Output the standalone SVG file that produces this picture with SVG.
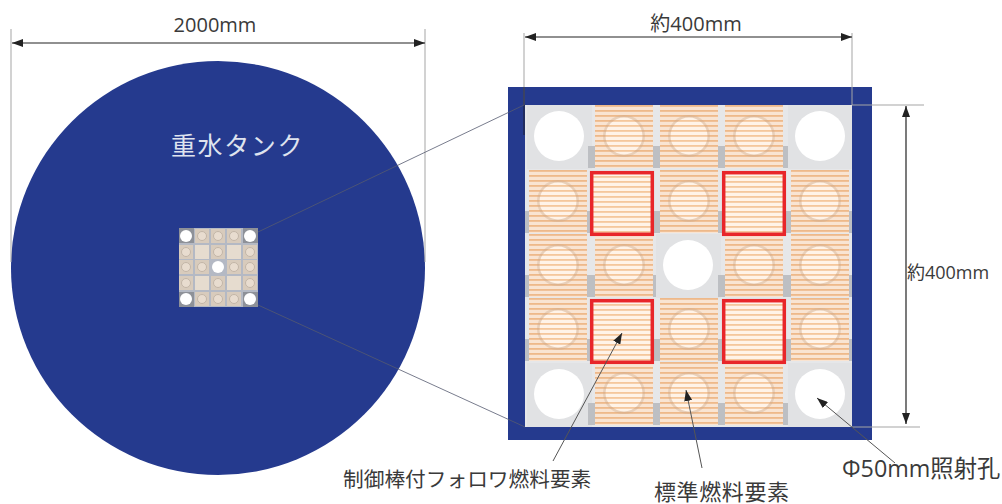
<svg xmlns="http://www.w3.org/2000/svg" xmlns:xlink="http://www.w3.org/1999/xlink" width="1002" height="504" viewBox="0 0 1002 504">
<style>
text{font-family:"Open Sans","Noto Sans CJK JP","Noto Sans",sans-serif;fill:#3a3a3a}
.cjk{font-family:"Noto Sans CJK JP",sans-serif}
.lat{font-family:"Open Sans",sans-serif}
.dim{stroke:#222;stroke-width:1.2;fill:none;marker-start:url(#as);marker-end:url(#ae)}
.ext{stroke:#a5a5a5;stroke-width:1;fill:none}
.lead{stroke:#555;stroke-width:1;fill:none;marker-end:url(#ae)}
.thin{stroke:#555a70;stroke-width:.8;fill:none}
.sf{fill:#d8cbbc}
.sc{fill:#e8dccf;stroke:#c3b6a8;stroke-width:1}
.sh{fill:#8e9198}
.sw{fill:#fff}
.sp{fill:#e6dccf}
</style>
<defs>
<marker id="ae" markerWidth="12" markerHeight="8" refX="11" refY="4" orient="auto" markerUnits="userSpaceOnUse"><path d="M0 0L11 4L0 8Z" fill="#222"/></marker>
<marker id="as" markerWidth="12" markerHeight="8" refX="1" refY="4" orient="auto" markerUnits="userSpaceOnUse"><path d="M12 0L1 4L12 8Z" fill="#222"/></marker>
<pattern id="st" width="6" height="5" patternUnits="userSpaceOnUse"><rect width="6" height="5" fill="#f9e4d2"/><rect y="0" width="6" height="1.8" fill="#eeb98a"/></pattern>
<pattern id="st2" width="6" height="5" patternUnits="userSpaceOnUse"><rect width="6" height="5" fill="#fff3e8"/><rect y="0" width="6" height="1.8" fill="#f5c79c"/></pattern>
<clipPath id="cc"><rect width="327" height="322"/></clipPath>
<filter id="b"><feGaussianBlur stdDeviation=".5"/></filter>
<filter id="b2" x="0" y="0" width="1" height="1"><feGaussianBlur stdDeviation=".6"/></filter>
<g id="fuel"><rect x="2" y="0" width="58" height="63" fill="url(#st)"/><rect x="-5" y="41" width="7" height="22" fill="#bdbfc3"/><rect x="60" y="41" width="6" height="22" fill="#bdbfc3"/><circle cx="31" cy="31" r="21" fill="#c9a98c" opacity=".35"/><circle cx="31" cy="31" r="18.5" fill="url(#st2)"/></g>
<g id="hole"><rect x="0" y="0" width="65" height="64" fill="#e1e2e4"/><circle cx="32" cy="31" r="25" fill="#fff"/></g>
<g id="ctrl"><rect x="1.7" y="1.7" width="60.6" height="61.6" fill="url(#st2)" stroke="#e8262c" stroke-width="3.5"/></g>
</defs>
<rect width="1002" height="504" fill="#fff"/>
<g id="tank"><circle cx="218" cy="268" r="207" fill="#253a8e"/>
<text class="cjk" x="171" y="155" font-size="25" letter-spacing="1.6" style="fill:#dfe3ee">重水タンク</text></g>
<g id="small-core" filter="url(#b2)">
<rect x="179" y="228" width="79" height="79" fill="#b4b9c4"/>
<rect x="179" y="228" width="15" height="15" class="sh"/><rect x="243" y="228" width="15" height="15" class="sh"/><rect x="179" y="292" width="15" height="15" class="sh"/><rect x="243" y="292" width="15" height="15" class="sh"/>
<circle cx="186" cy="236" r="6" class="sw"/><circle cx="250" cy="236" r="6" class="sw"/><circle cx="186" cy="299" r="6" class="sw"/><circle cx="250" cy="299" r="6" class="sw"/><circle cx="218" cy="267" r="6" class="sw"/>
<g id="small-fuel">
<rect x="195" y="229" width="14" height="14" class="sf"/><circle cx="202" cy="236" r="4.5" class="sc"/>
<rect x="211" y="229" width="14" height="14" class="sf"/><circle cx="218" cy="236" r="4.5" class="sc"/>
<rect x="227" y="229" width="14" height="14" class="sf"/><circle cx="234" cy="236" r="4.5" class="sc"/>
<rect x="179" y="245" width="14" height="14" class="sf"/><circle cx="186" cy="252" r="4.5" class="sc"/>
<rect x="195" y="245" width="14" height="14" class="sp"/>
<rect x="211" y="245" width="14" height="14" class="sf"/><circle cx="218" cy="252" r="4.5" class="sc"/>
<rect x="227" y="245" width="14" height="14" class="sp"/>
<rect x="243" y="245" width="14" height="14" class="sf"/><circle cx="250" cy="252" r="4.5" class="sc"/>
<rect x="179" y="260" width="14" height="14" class="sf"/><circle cx="186" cy="267" r="4.5" class="sc"/>
<rect x="195" y="260" width="14" height="14" class="sf"/><circle cx="202" cy="267" r="4.5" class="sc"/>
<rect x="227" y="260" width="14" height="14" class="sf"/><circle cx="234" cy="267" r="4.5" class="sc"/>
<rect x="243" y="260" width="14" height="14" class="sf"/><circle cx="250" cy="267" r="4.5" class="sc"/>
<rect x="179" y="276" width="14" height="14" class="sf"/><circle cx="186" cy="283" r="4.5" class="sc"/>
<rect x="195" y="276" width="14" height="14" class="sp"/>
<rect x="211" y="276" width="14" height="14" class="sf"/><circle cx="218" cy="283" r="4.5" class="sc"/>
<rect x="227" y="276" width="14" height="14" class="sp"/>
<rect x="243" y="276" width="14" height="14" class="sf"/><circle cx="250" cy="283" r="4.5" class="sc"/>
<rect x="195" y="292" width="14" height="14" class="sf"/><circle cx="202" cy="299" r="4.5" class="sc"/>
<rect x="211" y="292" width="14" height="14" class="sf"/><circle cx="218" cy="299" r="4.5" class="sc"/>
<rect x="227" y="292" width="14" height="14" class="sf"/><circle cx="234" cy="299" r="4.5" class="sc"/>
</g>
</g>
<g id="frame"><path fill-rule="evenodd" d="M508 87H872V440H508ZM525 105V427H852V105Z" fill="#253a8e"/></g>
<g id="core-large" transform="translate(525 105)" filter="url(#b)"><g clip-path="url(#cc)">
<rect x="0" y="0" width="327" height="322" fill="#e6e7e9"/>
<use xlink:href="#hole" x="2" y="0"/><use xlink:href="#fuel" x="68" y="0"/><use xlink:href="#fuel" x="133" y="0"/><use xlink:href="#fuel" x="198" y="0"/><use xlink:href="#hole" x="263" y="0"/>
<use xlink:href="#fuel" x="2" y="65"/><use xlink:href="#fuel" x="133" y="65"/><use xlink:href="#fuel" x="264" y="65"/>
<use xlink:href="#fuel" x="2" y="129"/><use xlink:href="#fuel" x="68" y="129"/><use xlink:href="#hole" x="131" y="129"/><use xlink:href="#fuel" x="198" y="129"/><use xlink:href="#fuel" x="264" y="129"/>
<use xlink:href="#fuel" x="2" y="193"/><use xlink:href="#fuel" x="133" y="193"/><use xlink:href="#fuel" x="264" y="193"/>
<use xlink:href="#hole" x="2" y="258"/><use xlink:href="#fuel" x="68" y="257"/><use xlink:href="#fuel" x="133" y="257"/><use xlink:href="#fuel" x="198" y="257"/><use xlink:href="#hole" x="263" y="258"/>
<use xlink:href="#ctrl" x="65" y="66"/><use xlink:href="#ctrl" x="197" y="66"/><use xlink:href="#ctrl" x="65" y="194"/><use xlink:href="#ctrl" x="197" y="194"/>
</g></g>
<g id="connectors">
<path class="ext" d="M11 29V262M425 29V262M524 33V105M852 33V105M852 105H924M852 427H920"/>
<path d="M524 87V135" stroke="#1f2440" stroke-width="1.2" fill="none"/>
<path class="dim" d="M12 43H425"/>
<path class="dim" d="M525 37H852"/>
<path class="dim" d="M906 106V424"/>
<path class="thin" d="M258 232L524 105M258 305L525 427"/>
<path class="lead" d="M553 461L622 333" />
<path class="lead" d="M702 468L686 390"/>
<path class="lead" d="M895 463L817 398"/>
</g>
<g id="labels">
<text x="215" y="32" font-size="20" text-anchor="middle">2000mm</text>
<text class="cjk" x="696" y="31" font-size="20" text-anchor="middle">約<tspan class="lat">400mm</tspan></text>
<text class="cjk" x="948" y="279" font-size="18" text-anchor="middle">約<tspan class="lat">400mm</tspan></text>
<text class="cjk" x="343" y="487" font-size="20.7">制御棒付フォロワ燃料要素</text>
<text class="cjk" x="654" y="500" font-size="22" letter-spacing=".6">標準燃料要素</text>
<text class="cjk" x="842" y="477" font-size="23.3"><tspan class="lat">Φ50mm</tspan>照射孔</text>
</g>
</svg>
